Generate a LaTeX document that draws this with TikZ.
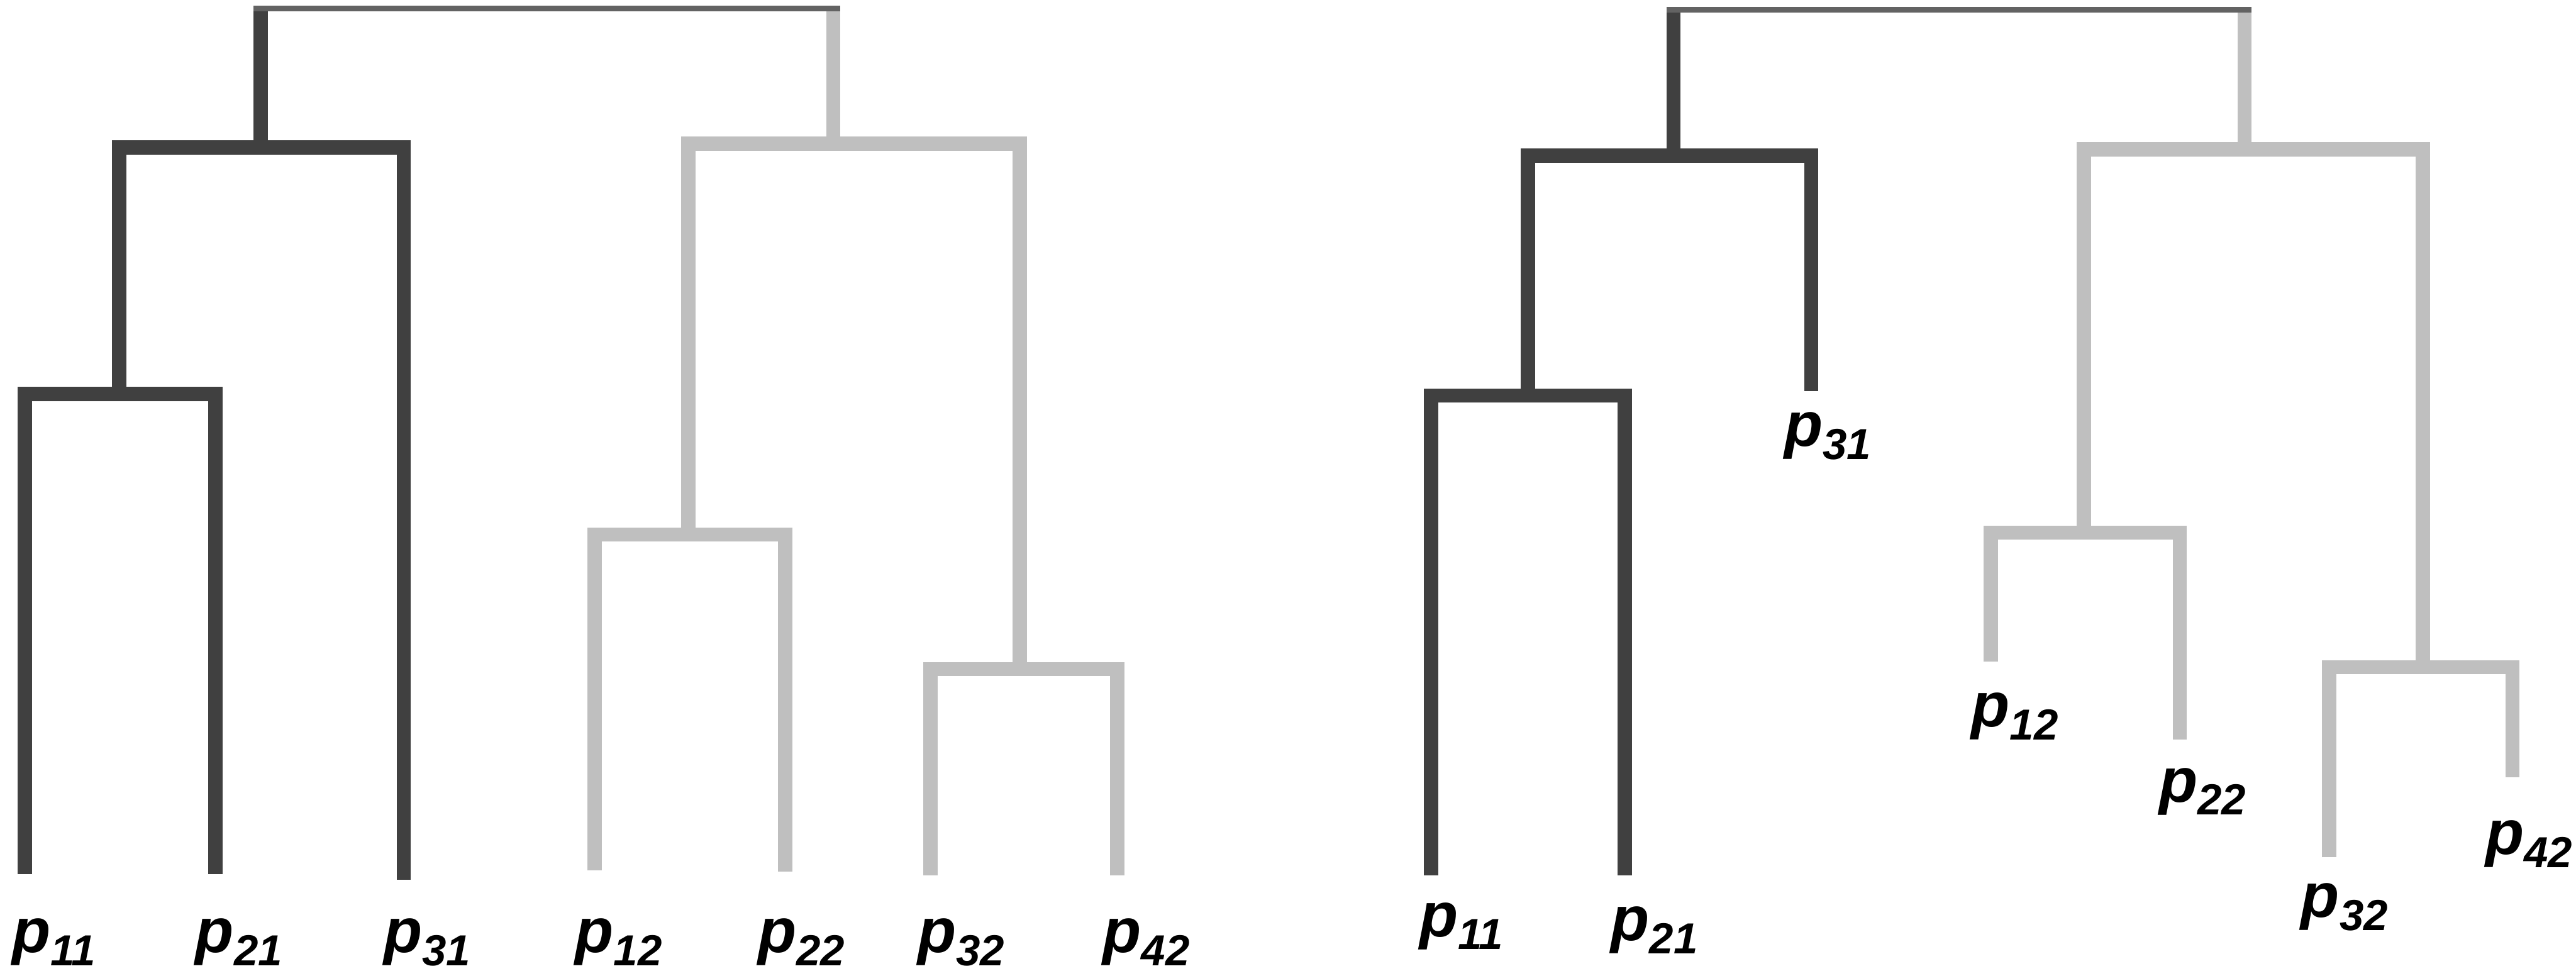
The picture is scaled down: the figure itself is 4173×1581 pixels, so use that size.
\documentclass[tikz,border=0pt]{standalone}
\usepackage{fontspec}
\setmainfont{Liberation Sans}
\definecolor{dk}{HTML}{404040}
\definecolor{lt}{HTML}{BFBFBF}
\definecolor{tp}{HTML}{636363}
\newcommand\subidx[1]{\raisebox{-6pt}{\fontsize{20}{20}\selectfont #1}}
\begin{document}
\begin{tikzpicture}[x=0.01cm,y=-0.01cm,
  dkline/.style={draw=dk,line width=0.23cm,line join=miter},
  ltline/.style={draw=lt,line width=0.23cm,line join=miter},
  topline/.style={draw=tp,line width=0.09cm},
  lbl/.style={anchor=base west,inner sep=0pt,text=black,font=\fontsize{29}{30}\selectfont\bfseries\itshape}]
\useasboundingbox[fill=white] (0,0) rectangle (4173,1581);

% ---------------- left dendrogram ----------------
\coordinate (a11) at (40,1416);
\coordinate (a21) at (349,1416);
\coordinate (a31) at (654,1425);
\coordinate (a12) at (963,1410);
\coordinate (a22) at (1272,1412);
\coordinate (a32) at (1507,1418);
\coordinate (a42) at (1810,1418);
\coordinate (aA) at (193,638);
\coordinate (aB) at (422,239);
\coordinate (aC) at (1115,866);
\coordinate (aD) at (1652,1084);
\coordinate (aE) at (1350,233);
\coordinate (aTL) at (422,9);
\coordinate (aTR) at (1350,9);
\coordinate (aBarL) at (410.5,13.5);
\coordinate (aBarR) at (1361.5,13.5);

\draw[dkline] (a11) |- (aA) -| (a21);
\draw[dkline] (aA) |- (aB) -| (a31);
\draw[dkline] (aB) -- (aTL);
\draw[ltline] (a12) |- (aC) -| (a22);
\draw[ltline] (a32) |- (aD) -| (a42);
\draw[ltline] (aC) |- (aE) -| (aD);
\draw[ltline] (aE) -- (aTR);
\draw[topline] (aBarL) -- (aBarR);

\node[lbl] (la11) at (19,1543) {p\subidx{11}};
\node[lbl] (la21) at (316,1543) {p\subidx{21}};
\node[lbl] (la31) at (621,1543) {p\subidx{31}};
\node[lbl] (la12) at (931,1543) {p\subidx{12}};
\node[lbl] (la22) at (1227,1543) {p\subidx{22}};
\node[lbl] (la32) at (1486,1543) {p\subidx{32}};
\node[lbl] (la42) at (1786,1543) {p\subidx{42}};

% ---------------- right dendrogram ----------------
\coordinate (b11) at (2318,1418);
\coordinate (b21) at (2632,1418);
\coordinate (b31) at (2934,634);
\coordinate (b12) at (3225,1072);
\coordinate (b22) at (3531,1198);
\coordinate (b32) at (3773,1389);
\coordinate (b42) at (4070,1259);
\coordinate (bF) at (2475,641);
\coordinate (bG) at (2711,252);
\coordinate (bH) at (3376,863);
\coordinate (bI) at (3925,1081);
\coordinate (bJ) at (3636,242);
\coordinate (bTL) at (2711,11);
\coordinate (bTR) at (3636,11);
\coordinate (bBarL) at (2699.5,15.5);
\coordinate (bBarR) at (3647.5,15.5);

\draw[dkline] (b11) |- (bF) -| (b21);
\draw[dkline] (bF) |- (bG) -| (b31);
\draw[dkline] (bG) -- (bTL);
\draw[ltline] (b12) |- (bH) -| (b22);
\draw[ltline] (b32) |- (bI) -| (b42);
\draw[ltline] (bH) |- (bJ) -| (bI);
\draw[ltline] (bJ) -- (bTR);
\draw[topline] (bBarL) -- (bBarR);

\node[lbl] (lb11) at (2299,1517) {p\subidx{11}};
\node[lbl] (lb21) at (2609,1524) {p\subidx{21}};
\node[lbl] (lb31) at (2890,723) {p\subidx{31}};
\node[lbl] (lb12) at (3193,1177) {p\subidx{12}};
\node[lbl] (lb22) at (3497,1299) {p\subidx{22}};
\node[lbl] (lb32) at (3727,1486) {p\subidx{32}};
\node[lbl] (lb42) at (4026,1384) {p\subidx{42}};
\end{tikzpicture}
\end{document}
